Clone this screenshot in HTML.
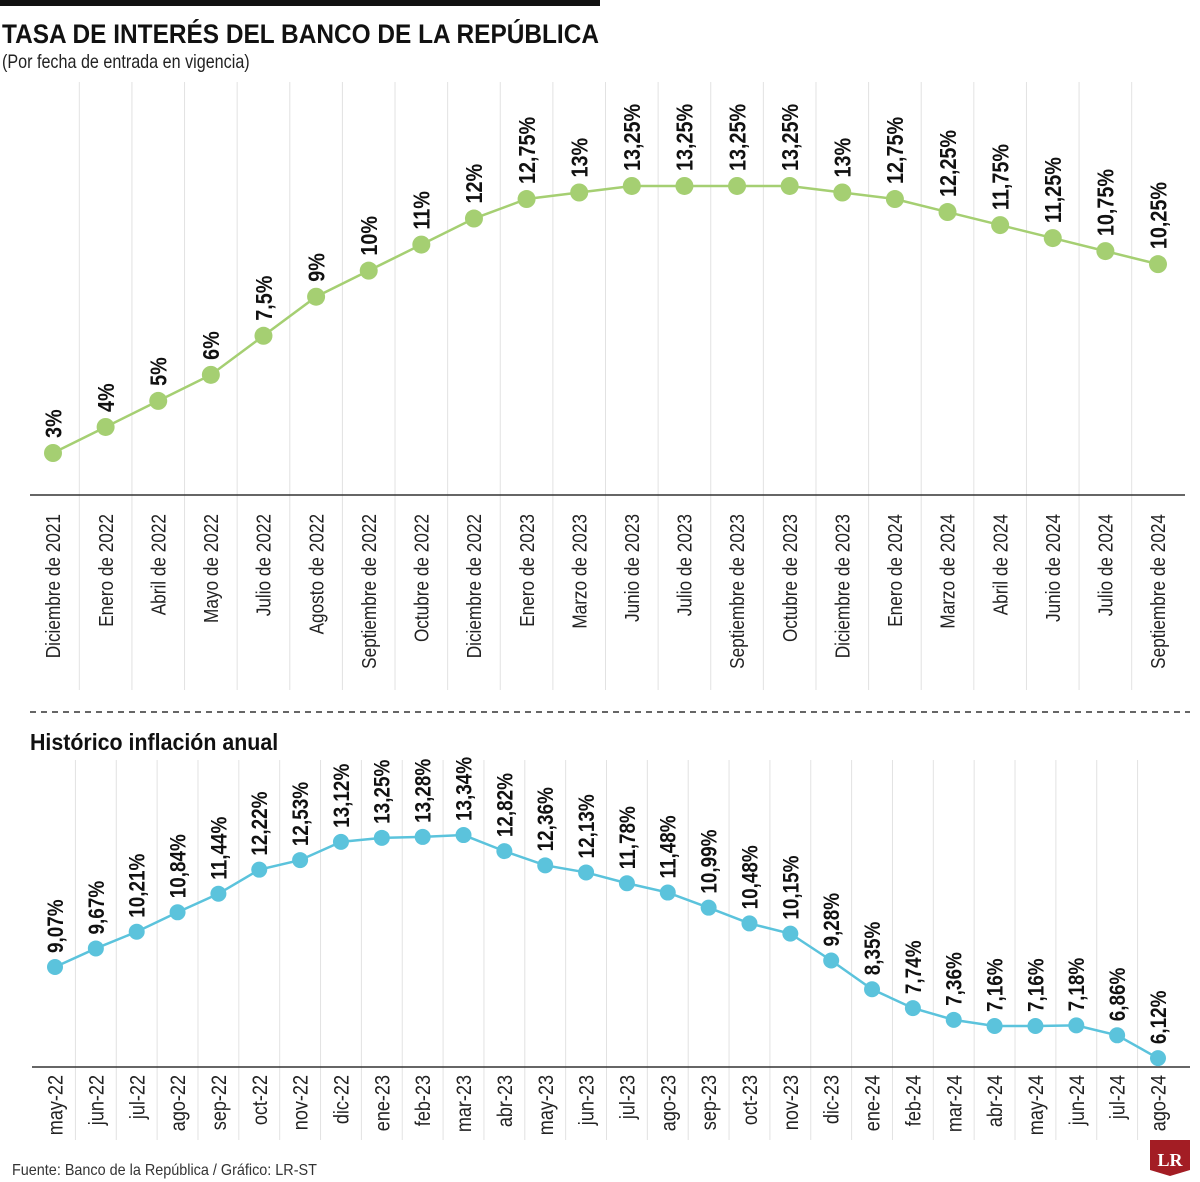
<!DOCTYPE html>
<html><head><meta charset="utf-8"><style>
body{margin:0;background:#fff;}
svg{display:block;font-family:"Liberation Sans",sans-serif;}
</style></head><body>
<svg id="s" width="1200" height="1182" viewBox="0 0 1200 1182" xmlns="http://www.w3.org/2000/svg">
<rect x="0" y="0" width="600" height="6" fill="#111"/>
<text x="2" y="43" font-size="27" font-weight="bold" fill="#111" transform="scale(0.905,1)" style="transform-origin:2px 43px">TASA DE INTERÉS DEL BANCO DE LA REPÚBLICA</text>
<text x="2" y="68" font-size="19" fill="#222" transform="scale(0.85,1)" style="transform-origin:2px 68px">(Por fecha de entrada en vigencia)</text>
<line x1="30" y1="712" x2="1190" y2="712" stroke="#333" stroke-width="1.5" stroke-dasharray="6,5"/>
<text x="30" y="750" font-size="23" font-weight="bold" fill="#111" transform="scale(0.93,1)" style="transform-origin:30px 750px">Histórico inflación anual</text>
<text x="12" y="1175" font-size="16" fill="#333" transform="scale(0.9,1)" style="transform-origin:12px 1175px">Fuente: Banco de la República / Gráfico: LR-ST</text>
<g><path d="M1150 1140 h40 v30 l-20 6 l-20 -6z" fill="#a31d24"/><text x="1170" y="1166" font-size="18" font-weight="bold" fill="#fff" text-anchor="middle" font-family="Liberation Serif,serif">LR</text></g>
<g id="c1"></g><g id="c2"></g>
</svg>
<script>
const rateCats=["Diciembre de 2021","Enero de 2022","Abril de 2022","Mayo de 2022","Julio de 2022","Agosto de 2022","Septiembre de 2022","Octubre de 2022","Diciembre de 2022","Enero de 2023","Marzo de 2023","Junio de 2023","Julio de 2023","Septiembre de 2023","Octubre de 2023","Diciembre de 2023","Enero de 2024","Marzo de 2024","Abril de 2024","Junio de 2024","Julio de 2024","Septiembre de 2024"];
const rateVals=[3,4,5,6,7.5,9,10,11,12,12.75,13,13.25,13.25,13.25,13.25,13,12.75,12.25,11.75,11.25,10.75,10.25];
const inflCats=["may-22","jun-22","jul-22","ago-22","sep-22","oct-22","nov-22","dic-22","ene-23","feb-23","mar-23","abr-23","may-23","jun-23","jul-23","ago-23","sep-23","oct-23","nov-23","dic-23","ene-24","feb-24","mar-24","abr-24","may-24","jun-24","jul-24","ago-24"];
const inflVals=[9.07,9.67,10.21,10.84,11.44,12.22,12.53,13.12,13.25,13.28,13.34,12.82,12.36,12.13,11.78,11.48,10.99,10.48,10.15,9.28,8.35,7.74,7.36,7.16,7.16,7.18,6.86,6.12];
const NS="http://www.w3.org/2000/svg";
function mk(p,t,a){const e=document.createElementNS(NS,t);for(const k in a)e.setAttribute(k,a[k]);p.appendChild(e);return e;}
function fmt(v){return String(v).replace('.',',')+'%';}
function draw(g,cats,vals,o){
 const n=cats.length,step=(o.x1-o.x0)/(n-1);
 const X=i=>o.x0+i*step, Y=v=>o.yRef-(v-o.vRef)*o.k;
 for(let i=0;i<n-1;i++){const gx=X(i)+step/2;
  const l=mk(g,'line',{x1:gx,y1:o.gTop,x2:gx,y2:o.gBot,stroke:'#e2e2e2','stroke-width':1});
  
  }
 const ax=mk(g,'line',{x1:o.ax0,y1:o.axY,x2:o.ax1,y2:o.axY,stroke:'#333','stroke-width':1.5});
 
 
 const pl=mk(g,'polyline',{points:vals.map((v,i)=>X(i)+','+Y(v)).join(' '),fill:'none',stroke:o.col,'stroke-width':2.5});
 
 
 vals.forEach((v,i)=>{const x=X(i),y=Y(v);
  const c=mk(g,'circle',{cx:x,cy:y,r:o.r,fill:o.col});
  
  
  const t=mk(g,'text',{x:0,y:0,'font-size':o.vf,'font-weight':'bold',fill:'#111',transform:`translate(${x+o.vf*0.36},${y-o.r-6}) rotate(-90) scale(0.86,1)`});
  t.textContent=fmt(v);
  
  
  const lb=mk(g,'text',{x:0,y:0,'font-size':o.lf,fill:'#222','text-anchor':'end',transform:`translate(${x+o.lf*0.36},${o.axY+o.lo}) rotate(-90) scale(0.86,1)`});
  lb.textContent=cats[i];
  
  
 });
}
draw(document.getElementById('c1'),rateCats,rateVals,{x0:53,x1:1158,yRef:453,vRef:3,k:26.05,gTop:82,gBot:690,axY:495,ax0:30,ax1:1185,col:'#a5cf72',r:9,vf:23,lf:20,lo:19});
draw(document.getElementById('c2'),inflCats,inflVals,{x0:55,x1:1158,yRef:967,vRef:9.07,k:30.9,gTop:760,gBot:1140,axY:1067,ax0:32,ax1:1190,col:'#5bc3dc',r:8,vf:22,lf:21,lo:8});
</script>
</body></html>
